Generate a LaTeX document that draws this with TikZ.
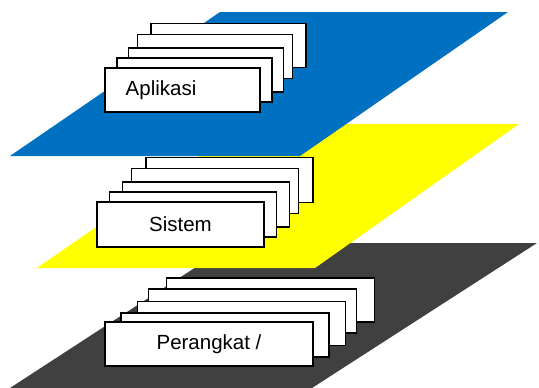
\documentclass[tikz,border=0pt]{standalone}
\usepackage{fontspec}
\setmainfont{Liberation Sans}
\definecolor{layerblue}{RGB}{0,112,192}
\definecolor{layeryellow}{RGB}{255,255,0}
\definecolor{layergray}{RGB}{64,64,64}
\begin{document}
\begin{tikzpicture}[x=1pt,y=-1pt,
  card/.style={draw=black,fill=white,line width=1.8pt,inner sep=0pt,font=\fontsize{20.5}{24}\selectfont},
  apcard/.style={card,minimum width=155pt,minimum height=44pt},
  sycard/.style={card,minimum width=167pt,minimum height=45pt},
  hwcard/.style={card,minimum width=208pt,minimum height=44pt},
  lbl/.style={inner sep=0pt,font=\fontsize{20.5}{24}\selectfont}]
\useasboundingbox (0,0) rectangle (539,388);

% three layer planes, back to front
\fill[layergray]   (10,388) -- (312,388) -- (537,243) -- (233,243) -- cycle;
\fill[layeryellow] (37,268) -- (315,268) -- (519,124) -- (245,124) -- cycle;
\fill[layerblue]   (10,156) -- (300,156) -- (508,12) -- (220,12) -- cycle;

% application layer stack
\node[apcard] (a5) at (228.5,45.5) {};
\node[apcard] (a4) at (215,56.5) {};
\node[apcard] (a3) at (206,70) {};
\node[apcard] (a2) at (194.5,80) {};
\node[apcard] (a1) at (182.5,90) {};
\node[lbl] (ta) at (161,90) {Aplikasi};

% system layer stack
\node[sycard] (s5) at (229.5,180) {};
\node[sycard] (s4) at (215,191) {};
\node[sycard] (s3) at (206,204.5) {};
\node[sycard] (s2) at (193,214.5) {};
\node[sycard] (s1) at (180.5,224.5) {Sistem};

% hardware layer stack
\node[hwcard] (h5) at (270.5,300) {};
\node[hwcard] (h4) at (252.5,311) {};
\node[hwcard] (h3) at (241.5,323.5) {};
\node[hwcard] (h2) at (225,335) {};
\node[hwcard] (h1) at (209,344) {Perangkat /};
\end{tikzpicture}
\end{document}
